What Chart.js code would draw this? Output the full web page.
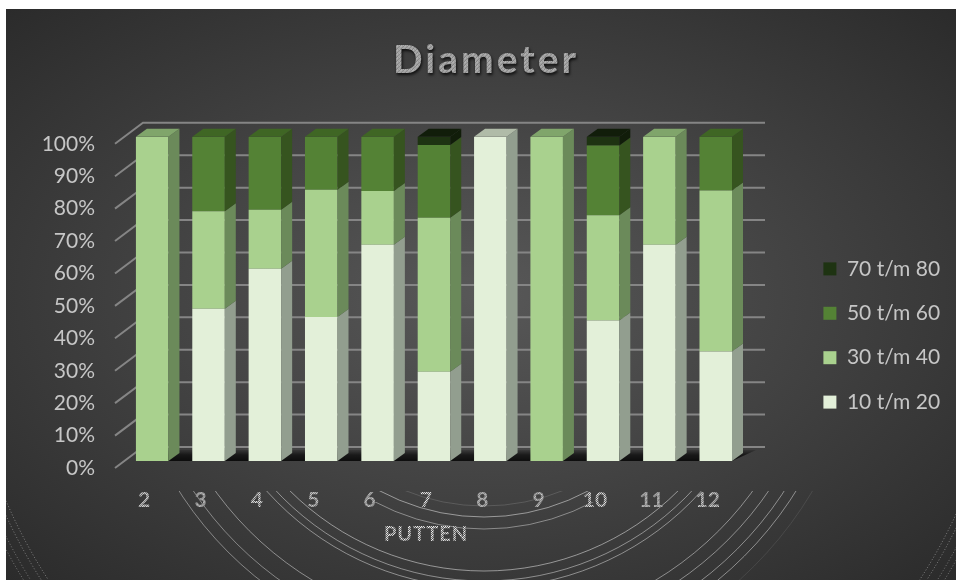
<!DOCTYPE html>
<html>
<head>
<meta charset="utf-8">
<title>Diameter</title>
<style>
    html, body { margin: 0; padding: 0; background: #fff; }
    #myChart {
        position: absolute; left: 6px; top: 9px;
        background: radial-gradient(ellipse farthest-corner at 50% 50%, #585858 0%, #2b2b2b 100%);
    }
</style>
</head>
<body>
<canvas id="myChart" width="950" height="571"></canvas>
<script src="https://cdn.jsdelivr.net/npm/chart.js@4"></script>
<script>
// datos de la grafica
const putten = ['2', '3', '4', '5', '6', '7', '8', '9', '10', '11', '12'];
const d10tm20 = [0, 47, 59.3, 44.4, 66.7, 27.5, 100, 0, 43.3, 66.7, 33.8];
const d30tm40 = [100, 30, 18.2, 39.3, 16.6, 47.5, 0, 100, 32.5, 33.3, 49.6];
const d50tm60 = [0, 23, 22.5, 16.3, 16.7, 22.5, 0, 0, 21.5, 0, 16.6];
const d70tm80 = [0, 0, 0, 0, 0, 2.5, 0, 0, 2.7, 0, 0];
const yTicks = [0, 10, 20, 30, 40, 50, 60, 70, 80, 90, 100];

// colores: cara frontal, lateral, superior
const faces = [
    { front: '#e3f0d9', side: '#929e8f', top: '#b0bba8' },
    { front: '#a9d18e', side: '#6b8a5a', top: '#80a56b' },
    { front: '#548235', side: '#36541f', top: '#3f6624' },
    { front: '#1e3312', side: '#111d0a', top: '#111d0a' }
];
const textColor = '#c6c6c6';
const gridColor = '#858585';

// profundidad del efecto 3d
const depthX = 11;
const depthY = 8;

// los arcos finos del fondo
const ringCenter = { x: 478, y: 287 };
const rings = [
    { r: 210, from: 482, alpha: 0.18 },
    { r: 221, from: 482, alpha: 0.6 },
    { r: 233, from: 493, alpha: 0.5 },
    { r: 275, from: 482, alpha: 0.6 },
    { r: 285, from: 482, alpha: 0.55 },
    { r: 292, from: 482, alpha: 0.55 },
    { r: 332, from: 482, alpha: 0.55 },
    { r: 345, from: 482, alpha: 0.55, end: Math.PI / 2 },
    { r: 350, from: 482, alpha: 0.5, start: Math.PI / 2 },
    { r: 358, from: 482, alpha: 0.55, end: Math.PI / 2 },
    { r: 362, from: 482, alpha: 0.5, start: Math.PI / 2 },
    { r: 368, from: 482, alpha: 0.55, end: Math.PI / 2 },
    { r: 382, from: 482, alpha: 0.12, end: Math.PI / 2 },
    { r: 520, from: 482, alpha: 0.5, dash: [1, 2] },
    { r: 526, from: 482, alpha: 0.5, dash: [1, 2] },
    { r: 535, from: 482, alpha: 0.45, dash: [1, 2] },
    { r: 541, from: 482, alpha: 0.45, dash: [1, 2] }
];

const ctx = document.getElementById('myChart').getContext('2d');

// textura moteada para los textos plateados
const speckle = [
    [226, 120, 195, 95],
    [100, 215, 85, 235],
    [200, 80, 240, 130],
    [95, 225, 110, 180]
];
function speckleFill() {
    const tile = document.createElement('canvas');
    tile.width = 4;
    tile.height = 4;
    const t = tile.getContext('2d');
    speckle.forEach((row, y) => row.forEach((v, x) => {
        t.fillStyle = `rgb(${v},${v},${v})`;
        t.fillRect(x, y, 1, 1);
    }));
    return ctx.createPattern(tile, 'repeat');
}
const silver = speckleFill();

const backdrop = {
    id: 'backdrop',
    beforeDraw(chart) {
        const c = chart.ctx;
        rings.forEach(ring => {
            c.save();
            c.beginPath();
            c.rect(0, ring.from, chart.width, chart.height - ring.from);
            c.clip();
            c.strokeStyle = `rgba(255,255,255,${ring.alpha})`;
            c.lineWidth = 0.8;
            c.setLineDash(ring.dash || []);
            c.beginPath();
            c.arc(ringCenter.x, ringCenter.y, ring.r, ring.start || 0, ring.end || Math.PI);
            c.stroke();
            c.restore();
        });
    }
};

// pared del fondo y suelo, salen de la misma escala y
const walls = {
    id: 'walls',
    beforeDatasetsDraw(chart) {
        const c = chart.ctx;
        const y = chart.scales.y;
        c.save();
        c.strokeStyle = gridColor;
        y.ticks.forEach(tick => {
            const py = y.getPixelForValue(tick.value);
            c.lineWidth = 2;
            c.beginPath();
            c.moveTo(109, py + 7);
            c.lineTo(137, py - 14);
            c.lineTo(759, py - 14);
            c.stroke();
        });
        // sombra bajo las barras
        const first = chart.getDatasetMeta(0).data[0];
        const last = chart.getDatasetMeta(0).data[putten.length - 1];
        const base = y.getPixelForValue(0);
        const shade = c.createLinearGradient(0, base - 11, 0, base);
        shade.addColorStop(0, 'rgba(0,0,0,0.15)');
        shade.addColorStop(0.45, 'rgba(0,0,0,0.62)');
        shade.addColorStop(1, 'rgba(0,0,0,0.8)');
        c.fillStyle = shade;
        c.beginPath();
        c.moveTo(first.x - first.width / 2, base);
        c.lineTo(last.x + last.width / 2, base);
        c.lineTo(last.x + last.width / 2 + 24, base - 11);
        c.lineTo(first.x - first.width / 2, base - 11);
        c.closePath();
        c.fill();
        c.restore();
    }
};

// caras lateral y superior de cada barra
const bars3d = {
    id: 'bars3d',
    afterDatasetsDraw(chart) {
        const c = chart.ctx;
        c.save();
        chart.data.datasets.forEach((ds, i) => {
            chart.getDatasetMeta(i).data.forEach((bar, n) => {
                if (!ds.data[n]) return;
                const left = bar.x - bar.width / 2;
                const right = bar.x + bar.width / 2;
                c.fillStyle = faces[i].side;
                c.beginPath();
                c.moveTo(right, bar.base);
                c.lineTo(right + depthX, bar.base - depthY);
                c.lineTo(right + depthX, bar.y - depthY);
                c.lineTo(right, bar.y);
                c.closePath();
                c.fill();
                // solo la pieza de mas arriba tiene tapa
                const above = chart.data.datasets.slice(i + 1).some(o => o.data[n] > 0);
                if (above) return;
                c.fillStyle = faces[i].top;
                c.beginPath();
                c.moveTo(left, bar.y);
                c.lineTo(left + depthX, bar.y - depthY);
                c.lineTo(right + depthX, bar.y - depthY);
                c.lineTo(right, bar.y);
                c.closePath();
                c.fill();
            });
        });
        c.restore();
    }
};

// titulo del eje, va un poco a la izquierda del centro del area
const axisName = {
    id: 'axisName',
    afterDraw(chart) {
        const c = chart.ctx;
        c.save();
        c.font = 'bold 20px Lato';
        c.letterSpacing = '1px';
        c.textAlign = 'center';
        c.textBaseline = 'middle';
        c.fillStyle = silver;
        c.fillText('PUTTEN', 420, 526);
        c.restore();
    }
};

// leyenda mas abajo que el centro y titulo con espaciado y sombra
const placement = {
    id: 'placement',
    afterLayout(chart) {
        const legend = chart.legend;
        const shift = 41 - legend.top;
        legend.top += shift;
        legend.bottom += shift;
        legend.left = 794;
        legend.right = 950;

        const block = chart.titleBlock;
        if (!block.wrapped) {
            const draw = block.draw;
            block.draw = function () {
                const c = this.ctx;
                c.save();
                c.translate(480 - (this.left + this.right) / 2, 0);
                c.letterSpacing = '3px';
                c.shadowColor = 'rgba(0,0,0,0.75)';
                c.shadowBlur = 3;
                c.shadowOffsetX = 1;
                c.shadowOffsetY = 2;
                draw.call(this);
                c.restore();
            };
            block.wrapped = true;
        }
    }
};

const myChart = new Chart(ctx, {
    type: 'bar',
    data: {
        labels: putten,
        datasets: [
            { label: '10 t/m 20', data: d10tm20, backgroundColor: faces[0].front },
            { label: '30 t/m 40', data: d30tm40, backgroundColor: faces[1].front },
            { label: '50 t/m 60', data: d50tm60, backgroundColor: faces[2].front },
            { label: '70 t/m 80', data: d70tm80, backgroundColor: faces[3].front }
        ]
    },
    options: {
        responsive: false,
        animation: false,
        layout: { padding: { left: 0, right: 62, top: 0, bottom: 0 } },
        datasets: { bar: { categoryPercentage: 1, barPercentage: 0.577, borderWidth: 0 } },
        scales: {
            x: {
                stacked: true,
                grid: { display: false },
                border: { display: false },
                afterFit: scale => { scale.height = 119; },
                ticks: {
                    color: silver,
                    font: { family: 'Lato', size: 21, weight: 'bold' },
                    padding: 19,
                    labelOffset: -8,
                    autoSkip: false,
                    maxRotation: 0
                }
            },
            y: {
                stacked: true,
                min: 0,
                max: 100,
                afterBuildTicks: scale => { scale.ticks = yTicks.map(v => ({ value: v })); },
                afterFit: scale => { scale.width = 118; },
                grid: { display: false },
                border: { display: false },
                ticks: {
                    color: textColor,
                    font: { family: 'Lato', size: 21 },
                    padding: 21,
                    labelOffset: 7,
                    callback: value => value + '%'
                }
            }
        },
        plugins: {
            title: {
                display: true,
                text: 'Diameter',
                color: silver,
                font: { family: 'Lato', size: 39, weight: 'bold' },
                padding: { top: 28, bottom: 53 }
            },
            legend: {
                position: 'right',
                reverse: true,
                labels: {
                    color: textColor,
                    font: { family: 'Lato', size: 21 },
                    boxWidth: 13,
                    boxHeight: 13,
                    padding: 23.4
                }
            },
            tooltip: { enabled: false }
        }
    },
    plugins: [backdrop, walls, bars3d, axisName, placement]
});
</script>
</body>
</html>
